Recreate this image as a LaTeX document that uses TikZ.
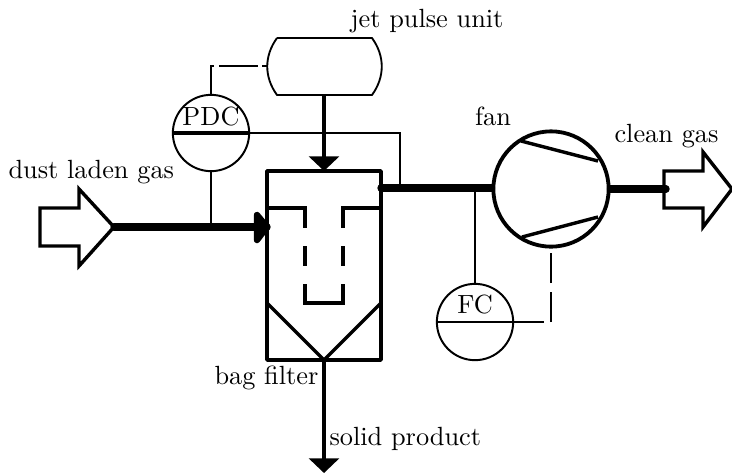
\documentclass[tikz,border=0pt]{standalone}
\usetikzlibrary{arrows.meta}
\tikzset{
  x=0.38pt,y=-0.38pt,
  thinl/.style={line width=0.7pt},
  medl/.style={line width=1.3pt},
  heavy/.style={line width=2.8pt},
  instr/.style={circle,draw,line width=0.75pt,minimum size=29pt,inner sep=0pt},
  fanc/.style={circle,draw,line width=1.45pt,minimum size=43.8pt,inner sep=0pt},
  lbl/.style={anchor=base,inner sep=0pt,font=\normalsize},
  bigtip/.style={-{Triangle[length=5.6pt,width=11.4pt]}},
}
\begin{document}
\begin{tikzpicture}
\useasboundingbox (0,0) rectangle (732,474);
% named points
\coordinate (js) at (324,95);
\coordinate (ftl) at (267,171); \coordinate (ftr) at (381,171);
\coordinate (fbl) at (267,360); \coordinate (fbr) at (381,360);
\coordinate (ftc) at (324,171); \coordinate (fbc) at (324,360);
\coordinate (out) at (324,473);
\coordinate (fin) at (267,227);
\coordinate (fout) at (381,188);
\coordinate (ctipin) at (114,227);
% jet pulse unit
\draw[thinl,line join=round] (277,38) -- (372,38) .. controls (385,56) and (385,77) .. (372,95) -- (277,95) .. controls (264,77) and (264,56) .. (277,38);
\coordinate (jw) at (267,66);
% instruments and fan
\node[instr] (pdc) at (211,133) {};
\node[instr] (fc) at (475,322) {};
\node[fanc] (fan) at (551,189) {};
\node[lbl] (pdct) at (211,125) {PDC};
\node[lbl] (fct) at (475,313) {FC};
% bag filter
\draw[medl,line join=round] (ftl) rectangle (fbr);
\draw[medl,line cap=round] (267,303) -- (fbc) -- (381,303);
\draw[medl,line join=miter] (267,208) -- (305,208) -- (305,228);
\draw[medl] (381,208) -- (343,208) -- (343,228);
\draw[medl] (305,246) -- (305,266) (343,246) -- (343,266);
\draw[medl,line join=miter] (305,284) -- (305,303) -- (343,303) -- (343,284);
% process streams
\draw[heavy,line cap=round] (ctipin) -- (fin);
\fill[black,draw=black,line width=2.4pt,line join=round] (257,215) -- (fin) -- (257,240) -- cycle;
\draw[line width=1.7pt,bigtip] (js) -- (ftc);
\draw[medl,bigtip] (fbc) -- (out);
\draw[heavy,line cap=round] (fout) -- (fan.west |- fout);
\coordinate (cin) at (666,189);
\draw[heavy,line cap=round] (fan.east) -- (cin);
% inlet and outlet shapes
\draw[medl,line join=miter] (ctipin) -- (79,189) -- (79,208) -- (40,208) -- (40,246) -- (79,246) -- (79,266) -- cycle;
\draw[medl,line join=miter] (732,189) -- (703,152) -- (703,171) -- (664,171) -- (664,208) -- (703,208) -- (703,227) -- cycle;
% fan blades
\draw[medl] (521,141) -- (598,161);
\draw[medl] (522,237) -- (598,217);
% signal lines
\draw[line width=1.15pt] (pdc.west) -- (pdc.east);
\draw[thinl] (pdc.east) -- (400,133) -- (400,188);
\draw[thinl] (pdc.south) -- (211,224);
\draw[thinl] (pdc.north) -- (211,66) -- (214,66);
\draw[thinl] (219,66) -- (258,66);
\draw[thinl] (262,66) -- (jw);
\draw[thinl] (fc.west) -- (fc.east) -- (544,322);
\draw[thinl] (fc.north) -- (475,189);
\draw[thinl] (551,322) -- (551,292);
\draw[thinl] (551,283) -- (551,253);
% labels
\node[lbl,anchor=base west] (l1) at (350,27) {jet pulse unit};
\node[lbl,anchor=base west] (l2) at (8,178) {dust laden gas};
\node[lbl,anchor=base] (l3) at (493,125) {fan};
\node[lbl,anchor=base west] (l4) at (614,142) {clean gas};
\node[lbl,anchor=base west] (l5) at (214,384) {bag filter};
\node[lbl,anchor=base west] (l6) at (329,445) {solid product};
\end{tikzpicture}
\end{document}
